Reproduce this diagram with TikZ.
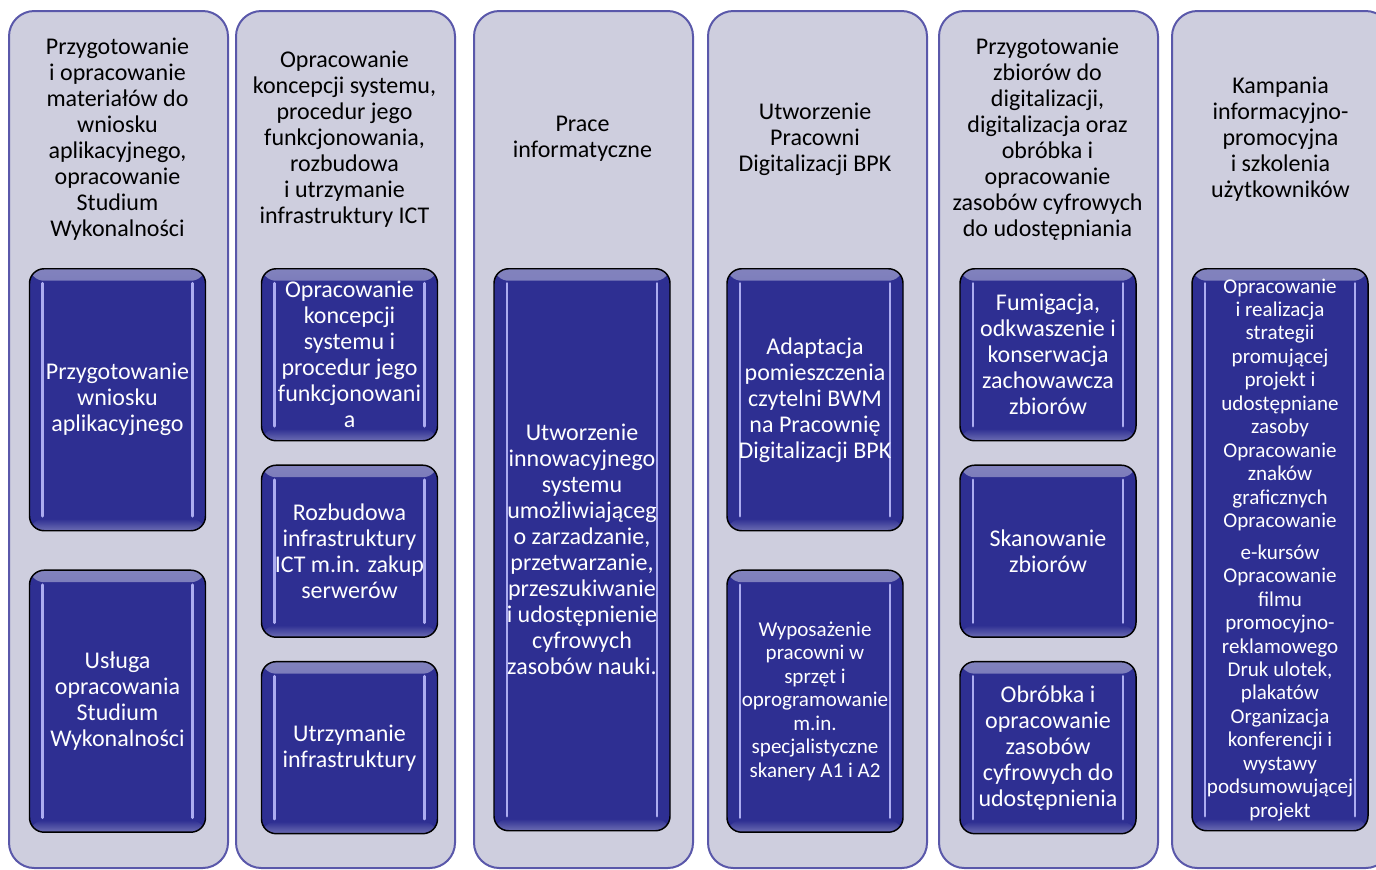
\documentclass[tikz,border=0pt]{standalone}
\usepackage{fontspec}
\setmainfont{Carlito}
\usepackage{tikz}
\usetikzlibrary{positioning}

\definecolor{lanefill}{RGB}{206,206,222}
\definecolor{laneedge}{RGB}{90,88,170}
\definecolor{taskblue}{RGB}{46,47,146}
\definecolor{taskshine}{RGB}{172,172,240}

\begin{document}
\begin{tikzpicture}[x=0.75pt, y=-0.75pt, align=center,
    lane/.style={draw=laneedge, line width=1.5pt, fill=lanefill, rounded corners=19pt,
        anchor=north west, minimum width=164.25pt, minimum height=642.75pt},
    heading/.style={font=\fontsize{18}{19.5}\selectfont, text=black, inner sep=0pt},
    task/.style={draw=black, line width=1.1pt, fill=taskblue, rounded corners=11pt, text=white,
        font=\fontsize{18}{19.5}\selectfont, minimum width=132pt, inner sep=0pt,
        path picture={
            \shade[top color=taskblue!60!white, bottom color=taskblue]
                (path picture bounding box.north west) rectangle ([yshift=-9pt]path picture bounding box.north east);
            \shade[bottom color=taskblue!70!white, top color=taskblue]
                ([yshift=9pt]path picture bounding box.south west) rectangle (path picture bounding box.south east);
            \draw[taskshine, line width=2.2pt, line cap=round]
                ([xshift=9.75pt,yshift=-11pt]path picture bounding box.north west) --
                ([xshift=9.75pt,yshift=11pt]path picture bounding box.south west);
            \draw[taskshine, line width=2.2pt, line cap=round]
                ([xshift=-9.75pt,yshift=-11pt]path picture bounding box.north east) --
                ([xshift=-9.75pt,yshift=11pt]path picture bounding box.south east);
        }},
    tall/.style={minimum height=196.5pt},
    short/.style={minimum height=129pt},
    full/.style={minimum height=421.5pt},
    small/.style={font=\fontsize{15.8}{17.6}\selectfont}]

    \useasboundingbox (0,0) rectangle (1376,869);

    % lanes
    \node[lane] (lane1) at (8,10) {};
    \node[lane] (lane2) at (235,10) {};
    \node[lane] (lane3) at (473,10) {};
    \node[lane] (lane4) at (707,10) {};
    \node[lane] (lane5) at (938,10) {};
    \node[lane] (lane6) at (1171,10) {};

    % headings
    \node[heading] (head1) at (117.5,139) {Przygotowanie\\i opracowanie\\materiałów do\\wniosku\\aplikacyjnego,\\opracowanie\\Studium\\Wykonalności};
    \node[heading] (head2) at (344.5,139) {Opracowanie\\koncepcji systemu,\\procedur jego\\funkcjonowania,\\rozbudowa\\i utrzymanie\\infrastruktury ICT};
    \node[heading] (head3) at (582.5,139) {Prace\\informatyczne};
    \node[heading] (head4) at (815,139) {Utworzenie\\Pracowni\\Digitalizacji BPK};
    \node[heading] (head5) at (1047.5,139) {Przygotowanie\\zbiorów do\\digitalizacji,\\digitalizacja oraz\\obróbka i\\opracowanie\\zasobów cyfrowych\\do udostępniania};
    \node[heading] (head6) at (1280.5,139) {Kampania\\informacyjno-\\promocyjna\\i szkolenia\\użytkowników};

    % tasks
    \node[task, tall, anchor=north] (wniosek) at (117.5,268) {Przygotowanie\\wniosku\\aplikacyjnego};
    \node[task, tall, below=28.5pt of wniosek] (studium) {Usługa\\opracowania\\Studium\\Wykonalności};

    \node[task, short, anchor=north] (koncepcja) at (349.5,268) {Opracowanie\\koncepcji\\systemu i\\procedur jego\\funkcjonowani\\a};
    \node[task, short, below=17.25pt of koncepcja] (rozbudowa) {Rozbudowa\\infrastruktury\\ICT m.in. zakup\\serwerów};
    \node[task, short, below=17.25pt of rozbudowa] (utrzymanie) {Utrzymanie\\infrastruktury};

    \node[task, full, anchor=north] (system) at (582,268) {Utworzenie\\innowacyjnego\\systemu\\umożliwiająceg\\o zarzadzanie,\\przetwarzanie,\\przeszukiwanie\\i udostępnienie\\cyfrowych\\zasobów nauki.};

    \node[task, tall, anchor=north] (adaptacja) at (815,268) {Adaptacja\\pomieszczenia\\czytelni BWM\\na Pracownię\\Digitalizacji BPK};
    \node[task, tall, small, below=28.5pt of adaptacja] (wyposazenie) {Wyposażenie\\pracowni w\\sprzęt i\\oprogramowanie\\m.in.\\specjalistyczne\\skanery A1 i A2};

    \node[task, short, anchor=north] (fumigacja) at (1048,268) {Fumigacja,\\odkwaszenie i\\konserwacja\\zachowawcza\\zbiorów};
    \node[task, short, below=17.25pt of fumigacja] (skanowanie) {Skanowanie\\zbiorów};
    \node[task, short, below=17.25pt of skanowanie] (obrobka) {Obróbka i\\opracowanie\\zasobów\\cyfrowych do\\udostępnienia};

    \node[task, full, small, anchor=north] (kampania) at (1280,268) {Opracowanie\\i realizacja\\strategii\\promującej\\projekt i\\udostępniane\\zasoby\\Opracowanie\\znaków\\graficznych\\Opracowanie\\[6pt]e-kursów\\Opracowanie\\filmu\\promocyjno-\\reklamowego\\Druk ulotek,\\plakatów\\Organizacja\\konferencji i\\wystawy\\podsumowującej\\projekt};

\end{tikzpicture}
\end{document}
